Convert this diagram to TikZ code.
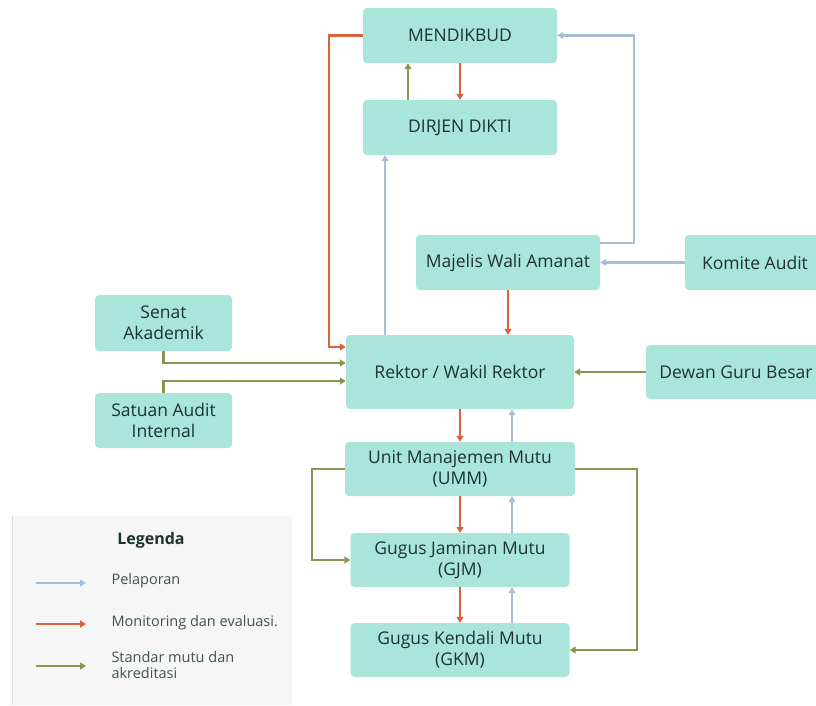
\documentclass[tikz,border=0pt]{standalone}
\usepackage{fontspec}
\setmainfont{Open Sans}
\usetikzlibrary{positioning,arrows.meta}
\definecolor{boxfill}{HTML}{A9E5DA}
\definecolor{boxtext}{HTML}{1D3330}
\definecolor{clapor}{HTML}{A9BED6}
\definecolor{cmonev}{HTML}{D9623D}
\definecolor{cstandar}{HTML}{8A9550}
\definecolor{legfill}{HTML}{F6F6F6}

\begin{document}
\begin{tikzpicture}[x=1pt,y=-1pt,node distance=90pt,on grid,
   unit/.style={rectangle,rounded corners=4pt,fill=boxfill,text=boxtext,align=center,
      inner sep=0pt,font=\fontsize{17.5}{21}\selectfont},
   lapor/.style={draw=clapor,line width=2.2pt,-{Triangle[length=6pt,width=7pt]}},
   monev/.style={draw=cmonev,line width=2.2pt,-{Triangle[length=6pt,width=7pt]}},
   standar/.style={draw=cstandar,line width=2.2pt,-{Triangle[length=6pt,width=7pt]}},
   legtext/.style={anchor=west,align=left,text=boxtext!85,font=\fontsize{14.5}{16}\selectfont}]
   \useasboundingbox (0,0) rectangle (816,705);
   % legend panel
   \fill[legfill] (12,516) rectangle (292,705);
   \draw[black!15,line width=1pt] (12,516) -- (12,705);

   \node [unit,minimum width=194pt,minimum height=55pt] (mend) at (460,35.5) {MENDIKBUD};
   \node [unit,minimum width=194pt,minimum height=55pt,below=92pt of mend] (dikti) {DIRJEN DIKTI};
   \node [unit,minimum width=228pt,minimum height=74pt,below=244.5pt of dikti] (rek) {Rektor / Wakil Rektor};
   \node [unit,minimum width=184pt,minimum height=55pt,above right=109.5pt and 48pt of rek] (mwa) {Majelis Wali Amanat};
   \node [unit,minimum width=140pt,minimum height=55pt,right=247pt of mwa] (komite) {Komite Audit};
   \node [unit,minimum width=180pt,minimum height=54pt,right=276pt of rek] (dgb) {Dewan Guru Besar};
   \node [unit,minimum width=137pt,minimum height=56pt,above left=49pt and 296.5pt of rek] (senat) {Senat\\Akademik};
   \node [unit,minimum width=137pt,minimum height=55pt,below=97.5pt of senat] (sai) {Satuan Audit\\Internal};
   \node [unit,minimum width=230pt,minimum height=54pt,below=97pt of rek] (umm) {Unit Manajemen Mutu\\(UMM)};
   \node [unit,minimum width=219pt,minimum height=54pt,below=91pt of umm] (gjm) {Gugus Jaminan Mutu\\(GJM)};
   \node [unit,minimum width=219pt,minimum height=54pt,below=90pt of gjm] (gkm) {Gugus Kendali Mutu\\(GKM)};

   % top part
   \draw[monev] (mend.south) -- (dikti.north);
   \draw[standar] ([xshift=-52pt]dikti.north) -- ([xshift=-52pt]mend.south);
   \draw[monev] (mend.west) -- ++(-34pt,0) |- ([yshift=25pt]rek.west);
   \draw[lapor] ([xshift=-75pt]rek.north) -- ([xshift=-75pt]dikti.south);
   \draw[lapor] ([yshift=19.5pt]mwa.east) -- ++(34pt,0) |- (mend.east);
   \draw[lapor] (komite.west) -- (mwa.east);
   \draw[monev] (mwa.south) -- (mwa.south |- rek.north);
   \draw[standar] (dgb.west) -- (dgb.west -| rek.east);
   \draw[standar] (senat.south) |- ([yshift=9pt]rek.west);
   \draw[standar] (sai.north) |- ([yshift=-9pt]rek.west);

   % quality units
   \draw[monev] (rek.south) -- (umm.north);
   \draw[lapor] ([xshift=52pt]umm.north) -- ([xshift=52pt]rek.south);
   \draw[monev] (umm.south) -- (gjm.north);
   \draw[lapor] ([xshift=52pt]gjm.north) -- ([xshift=52pt]umm.south);
   \draw[monev] (gjm.south) -- (gkm.north);
   \draw[lapor] ([xshift=52pt]gkm.north) -- ([xshift=52pt]gjm.south);
   \draw[standar] (umm.west) -- ++(-33pt,0) |- (gjm.west);
   \draw[standar] (umm.east) -- ++(62pt,0) |- (gkm.east);

   % legend
   \node [font=\bfseries\fontsize{16}{18}\selectfont,text=boxtext] (leg) at (151,540) {Legenda};
   \coordinate (l1a) at (36,583); \coordinate (l1b) at (86,583);
   \coordinate (l2a) at (36,624); \coordinate (l2b) at (86,624);
   \coordinate (l3a) at (36,666); \coordinate (l3b) at (86,666);
   \draw[lapor,line width=1.6pt] (l1a) -- (l1b);
   \draw[monev,line width=1.6pt] (l2a) -- (l2b);
   \draw[standar,line width=1.6pt] (l3a) -- (l3b);
   \node [legtext] (t1) at (108,581) {Pelaporan};
   \node [legtext] (t2) at (108,623) {Monitoring dan evaluasi.};
   \node [legtext] (t3) at (108,665) {Standar mutu dan\\akreditasi};
\end{tikzpicture}
\end{document}
